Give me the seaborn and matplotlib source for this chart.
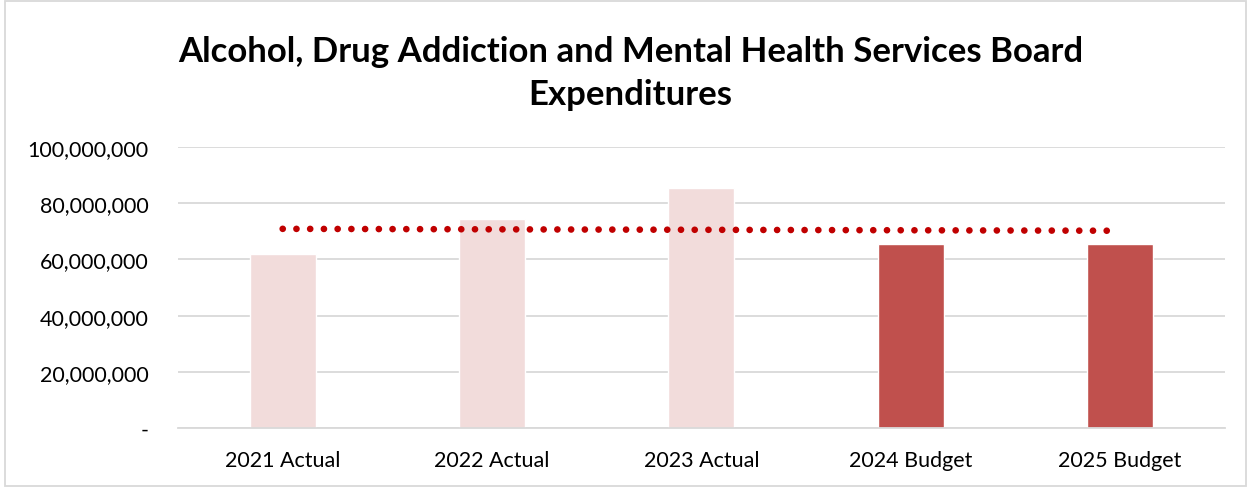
import numpy as np
import pandas as pd
import matplotlib
matplotlib.use("Agg")
import matplotlib.pyplot as plt
import seaborn as sns
from matplotlib.patches import Rectangle

categories = ["2021 Actual", "2022 Actual", "2023 Actual", "2024 Budget", "2025 Budget"]
expenditures = [61_900_000, 74_400_000, 85_400_000, 65_500_000, 65_500_000]
bar_colors = ["#F2DCDB", "#F2DCDB", "#F2DCDB", "#C0504D", "#C0504D"]
y_ticks = [0, 20_000_000, 40_000_000, 60_000_000, 80_000_000, 100_000_000]
y_tick_labels = ["-", "20,000,000", "40,000,000", "60,000,000", "80,000,000", "100,000,000"]
title = "Alcohol, Drug Addiction and Mental Health Services Board\nExpenditures"

sns.set_theme(style="white")
plt.rcParams["font.family"] = ["Lato", "DejaVu Sans"]

fig = plt.figure(figsize=(12.51, 4.89), dpi=100)
ax = fig.add_axes([0.1423, 0.1227, 0.8367, 0.5746])

df = pd.DataFrame({"category": categories, "value": expenditures})
sns.barplot(data=df, x="category", y="value", hue="category",
            palette=bar_colors, width=0.315, legend=False, ax=ax,
            saturation=1, zorder=2)

# Linear trendline across the five periods
pos = np.arange(len(categories))
slope, intercept = np.polyfit(pos, np.array(expenditures, dtype=float), 1)
ax.plot(pos, slope * pos + intercept, color="#C00000", linewidth=4.8,
        linestyle=(0, (0.01, 2.05)), dash_capstyle="round", zorder=3)

ax.set_ylim(0, 100_000_000)
ax.set_xlim(-0.5, len(categories) - 0.5)
ax.set_yticks(y_ticks)
ax.set_yticklabels(y_tick_labels, fontsize=15.5, color="#000000")
ax.tick_params(axis="x", labelsize=15.5, colors="#000000", pad=15.5, length=0)
ax.tick_params(axis="y", length=0, pad=21)
ax.set_xlabel("")
ax.set_ylabel("")
ax.yaxis.grid(True, color="#D9D9D9", linewidth=1.3, zorder=0)
ax.set_axisbelow(True)
for side in ["top", "right", "left"]:
    ax.spines[side].set_visible(False)
ax.spines["bottom"].set_color("#D9D9D9")
ax.spines["bottom"].set_linewidth(1.3)

fig.text(0.504, 0.85, title, ha="center", va="center", fontsize=25,
         fontweight="bold", color="#000000", linespacing=1.45)

fig.patches.append(Rectangle((0.004, 0.004), 0.992, 0.992, transform=fig.transFigure,
                             fill=False, edgecolor="#D9D9D9", linewidth=1.3))

fig.savefig("out.png", dpi=100, facecolor="white")
